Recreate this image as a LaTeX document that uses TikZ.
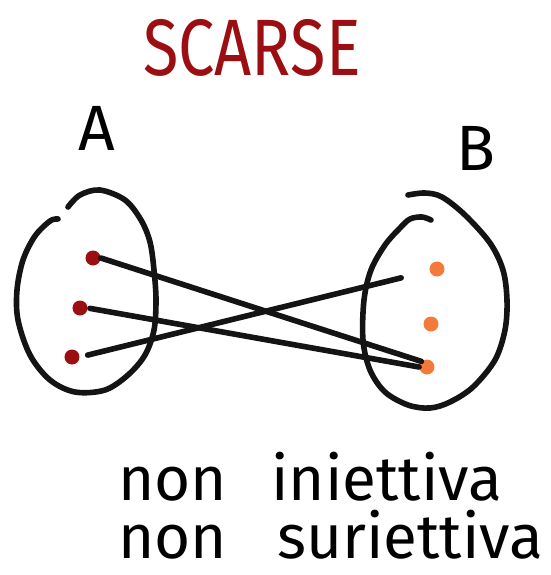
\documentclass[tikz,border=0pt]{standalone}
\usepackage{fontspec}
\setmainfont{Fira Sans}
\usetikzlibrary{positioning}
\definecolor{Set_Red}{HTML}{9B0E12}
\definecolor{Set_Orange}{HTML}{F47A3C}
\definecolor{Ink}{HTML}{141414}

\begin{document}
\begin{tikzpicture}[x=0.5pt, y=-0.5pt,
    inkline/.style={line width=2.8pt, Ink, line cap=round, line join=round},
    elemA/.style={circle, fill=Set_Red, inner sep=0pt, minimum size=7.5pt},
    elemB/.style={circle, fill=Set_Orange, inner sep=0pt, minimum size=7.5pt},
    caption/.style={anchor=base west, inner sep=0pt, font=\fontsize{31}{33}\selectfont}]

    \useasboundingbox (0,0) rectangle (551,575);

    % === Title ===
    \node[text=Set_Red, font=\fontsize{40}{42}\selectfont, xscale=0.81, transform shape] (title) at (252,48) {SCARSE};

    % === Set A (left, hand drawn outline with a gap at top) ===
    \node[font=\fontsize{32}{34}\selectfont] (labA) at (97,128) {A};
    \draw[inkline] plot[smooth, tension=0.55] coordinates {(68,207) (80,195) (100,190) (125,200) (141,220) (150,242) (154,270) (156,300) (154,330) (145,355) (128,375) (105,390) (75,392) (50,380) (30,355) (18,320) (17,290) (23,260) (35,236) (50,221) (58,219)};
    \node[elemA] (a1) at (93,258) {};
    \node[elemA] (a2) at (80,308) {};
    \node[elemA] (a3) at (72,357) {};

    % === Set B (right, same style) ===
    \node[font=\fontsize{32}{34}\selectfont] (labB) at (476,148) {B};
    \draw[inkline] plot[smooth, tension=0.55] coordinates {(408,195) (425,193) (442,197) (465,215) (490,243) (503,270) (507,300) (505,330) (495,360) (473,387) (450,402) (430,408) (408,405) (385,392) (370,370) (363,340) (364,300) (371,270) (385,245) (400,228) (410,219) (422,217) (431,220)};
    \node[elemB] (b1) at (437,269) {};
    \node[elemB] (b2) at (431,324) {};
    \node[elemB] (b3) at (427,367) {};

    % === Mapping A -> B ===
    \draw[inkline] (a1.east) -- (b3.north west);
    \draw[inkline, shorten <=1pt] (a2.east) -- (b3.west);
    \draw[inkline, shorten <=4pt, shorten >=14.5pt] (a3.east) -- (b1);

    % === Caption ===
    \node[caption] (cap1) at (118,500) {non\hspace{22pt}iniettiva};
    \node[caption] (cap2) at (118,558) {non\hspace{25pt}suriettiva};

\end{tikzpicture}
\end{document}
